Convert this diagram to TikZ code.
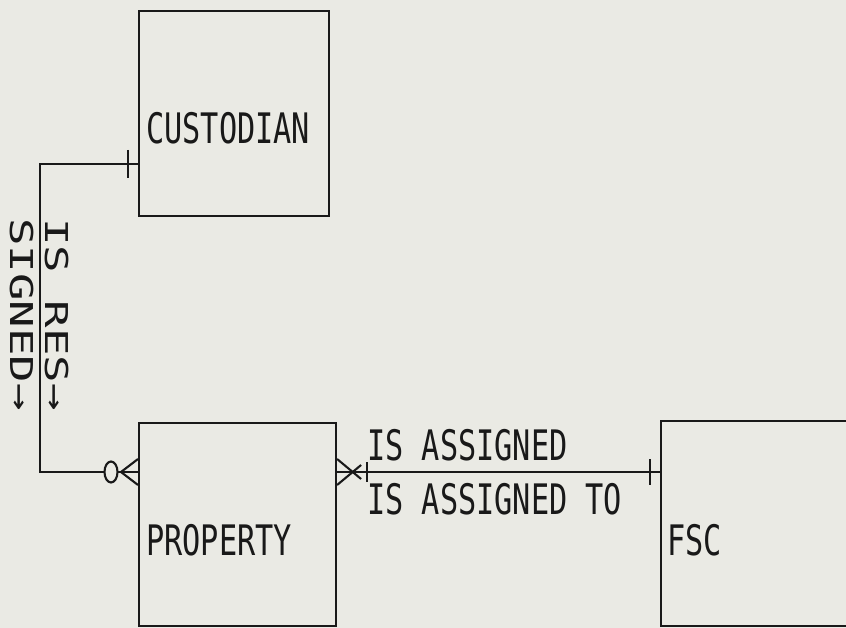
\documentclass[tikz,border=0pt]{standalone}
\usepackage{fontspec}
\newfontfamily\plotfont[FakeStretch=0.72]{DejaVu Sans Mono}
\newfontfamily\vplotfont[FakeStretch=1.45]{DejaVu Sans Mono}
\definecolor{bgc}{RGB}{234,234,228}
\definecolor{inkc}{RGB}{25,25,25}
\begin{document}
\begin{tikzpicture}[x=1pt,y=-1pt,
  ink/.style={draw=inkc, line width=2.1pt},
  box/.style={ink, rectangle, inner sep=0pt, anchor=north west},
  lbl/.style={text=inkc, inner sep=0pt, anchor=base west, font=\plotfont\fontsize{42}{50}\selectfont},
  vlbl/.style={text=inkc, inner sep=0pt, anchor=base west, rotate=-90, font=\vplotfont\fontsize{31.5}{38}\selectfont}]
\fill[bgc] (0,0) rectangle (846,628);
\useasboundingbox (0,0) rectangle (846,628);
\clip (0,0) rectangle (846,628);
% entities
\node[box, minimum width=190pt, minimum height=205pt] (cust) at (138,10) {};
\node[box, minimum width=197pt, minimum height=203pt] (prop) at (138,422) {};
\node[box, minimum width=300pt, minimum height=205pt] (fsc) at (660,420) {};
\node[lbl] (tcust) at (146,144) {CUSTODIAN};
\node[lbl] (tprop) at (146,555) {PROPERTY};
\node[lbl] (tfsc) at (667,555) {FSC};
% relationship labels
\node[lbl] (ta) at (367,460) {IS ASSIGNED};
\node[lbl] (tb) at (367,514) {IS ASSIGNED TO};
\node[vlbl] (v1) at (45,218) {IS RES→};
\node[vlbl] (v2) at (10,218) {SIGNED→};
% connectors
\coordinate (yc) at (0,164);
\coordinate (yp) at (0,472);
\coordinate (xb) at (40,0);
\coordinate (cj) at (cust.west |- yc);
\coordinate (pw) at (prop.west |- yp);
\coordinate (pe) at (prop.east |- yp);
\coordinate (fw) at (fsc.west |- yp);
\draw[ink] (cj) -| (xb |- yp) -- (pw);
\draw[ink] (pe) -- (fw);
% custodian: one
\draw[ink] ([shift={(-10,-14)}]cj) -- ([shift={(-10,14)}]cj);
% property west: zero or many
\draw[ink, fill=bgc] ([xshift=-27pt]pw) ellipse[x radius=6.5pt, y radius=10.5pt];
\draw[ink] ([shift={(0,-13)}]pw) -- ([shift={(-17,0)}]pw) -- ([shift={(0,13)}]pw);
% property east: one or many
\draw[ink] ([shift={(0,-13)}]pe) -- ([shift={(24,7)}]pe);
\draw[ink] ([shift={(0,13)}]pe) -- ([shift={(24,-7)}]pe);
\draw[ink] ([shift={(30,-10)}]pe) -- ([shift={(30,10)}]pe);
% fsc: one
\draw[ink] ([shift={(-10,-13)}]fw) -- ([shift={(-10,13)}]fw);
\end{tikzpicture}
\end{document}
